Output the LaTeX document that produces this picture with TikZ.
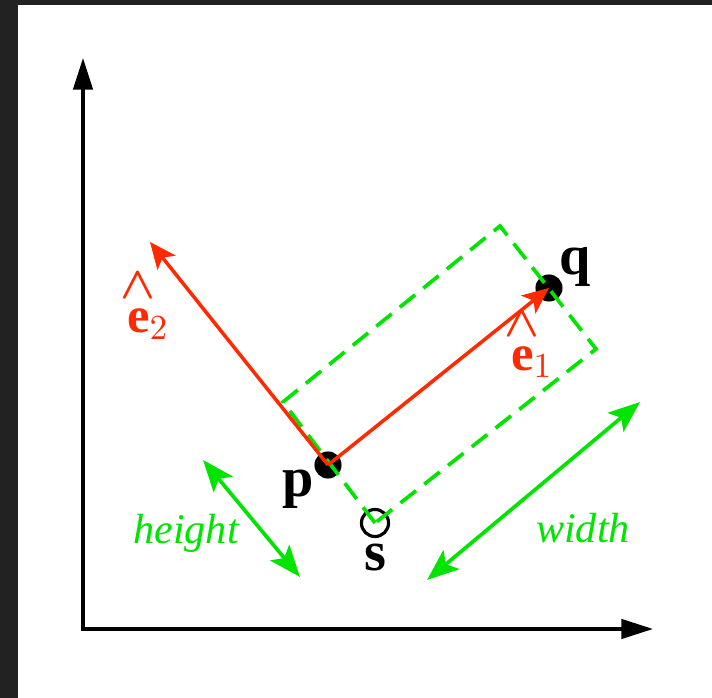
\documentclass[tikz,border=0pt]{standalone}
\usepackage{amsmath}
\usepackage{fontspec}
\setmainfont{Liberation Serif}
\usetikzlibrary{positioning, arrows.meta}
\definecolor{vecred}{RGB}{255,42,0}
\definecolor{boxgreen}{RGB}{0,228,0}
\definecolor{framegray}{RGB}{34,34,34}
\newcommand{\unitvec}[1]{$\overset{\makebox[0pt]{\raisebox{0pt}{\scalebox{0.9}{$\boldsymbol{\wedge}$}}}}{\mathbf{e}}_{#1}$}

\begin{document}
\begin{tikzpicture}[
        x=0.01cm, y=-0.01cm,
        % Stili per assi, vettori e quote
        axis/.style={{Triangle[length=9pt, width=5.5pt]}-{Triangle[length=9pt, width=5.5pt]}, line width=1pt, draw=black},
        vec/.style={-{Stealth[length=7.5pt, width=6.5pt, inset=1.8pt]}, line width=1pt, draw=vecred},
        dimline/.style={{Stealth[length=9pt, width=7pt, inset=2pt]}-{Stealth[length=9pt, width=7pt, inset=2pt]}, line width=1.05pt, draw=boxgreen},
        outline/.style={line width=1.05pt, draw=boxgreen, dash pattern=on 5.6pt off 3pt},
        % Stili per i punti e le etichette
        dot/.style={circle, fill=black, inner sep=0pt, minimum size=7.7pt},
        opendot/.style={circle, draw=black, line width=0.9pt, inner sep=0pt, minimum size=7.7pt},
        ptlabel/.style={font=\fontsize{16}{18}\selectfont\bfseries, inner sep=0pt},
        veclabel/.style={font=\Large, text=vecred, inner sep=0pt},
        dimlabel/.style={font=\fontsize{12}{14}\selectfont\itshape, text=boxgreen, inner sep=0pt}
    ]

    % --- FRAME ---
    \useasboundingbox (0,0) rectangle (712,698);
    \fill[framegray] (0,0) rectangle (712,698);
    \fill[white] (18,5) rectangle (712,698);

    % --- AXES ---
    \coordinate (O) at (83,629);
    \coordinate (ytip) at (83,58);
    \coordinate (xtip) at (653,629);
    \draw[axis] (ytip) -- (O) -- (xtip);

    % --- POINTS ---
    \node[dot] (p) at (328,465) {};
    \node[dot] (q) at (549,288) {};
    \node[opendot] (s) at (375,523) {};
    \node[ptlabel] (Lp) at (298,489) {p};
    \node[ptlabel] (Lq) at (575,267) {q};
    \node[ptlabel] (Ls) at (375,558) {s};

    % --- BOUNDING BOX ---
    \coordinate (cl) at (283,402);
    \coordinate (ct) at (500,226);
    \coordinate (cr) at (596,349);
    \draw[outline] (s.center) -- (cl) -- (ct) -- (cr) -- cycle;

    % --- VECTORS ---
    \coordinate (e2tip) at (150,242);
    \draw[vec] (p.center) -- (q.center);
    \draw[vec] (p.center) -- (e2tip);
    \node[veclabel] (E1) at (532,342) {\unitvec{1}};
    \node[veclabel] (E2) at (148,304) {\unitvec{2}};

    % --- DIMENSIONS ---
    \coordinate (h1) at (203,460);
    \coordinate (h2) at (300,577);
    \coordinate (w1) at (427,580);
    \coordinate (w2) at (640,402);
    \draw[dimline] (h1) -- (h2);
    \draw[dimline] (w1) -- (w2);
    \node[dimlabel] (Lh) at (186,533) {height};
    \node[dimlabel] (Lw) at (583,528) {width};

\end{tikzpicture}
\end{document}
